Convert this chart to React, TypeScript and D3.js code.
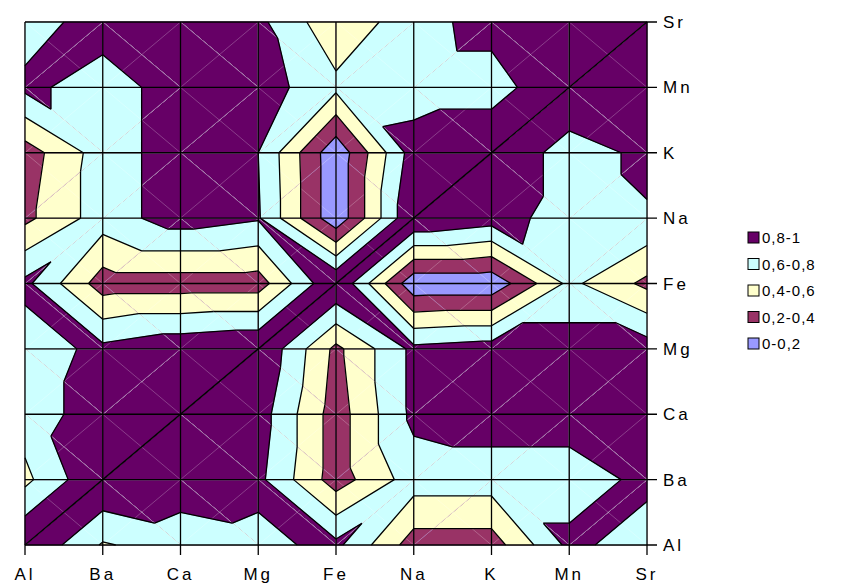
import * as d3 from 'd3';

const cats = ['Al', 'Ba', 'Ca', 'Mg', 'Fe', 'Na', 'K', 'Mn', 'Sr'];
// rows: y category (Al bottom .. Sr top), columns: x category
const rowAl = [1, 0.58, 0.7, 0.75, 0.85, 0.3, 0.3, 0.85, 0.7];
const rowBa = [0.55, 1, 0.9, 0.85, 0.3, 0.7, 0.7, 0.7, 0.85];
const rowCa = [0.7, 0.9, 1, 0.9, 0.3, 0.85, 0.9, 0.9, 0.9];
const rowMg = [0.7, 0.85, 0.95, 1, 0.35, 0.85, 0.9, 0.9, 0.9];
const rowFe = [0.85, 0.3, 0.3, 0.3, 1, 0.05, 0.05, 0.65, 0.35];
const rowNa = [0.35, 0.7, 0.9, 0.82, 0.05, 1, 0.9, 0.7, 0.78];
const rowK = [0.3, 0.7, 0.9, 0.8, 0.05, 0.9, 1, 0.7, 0.85];
const rowMn = [0.85, 0.7, 0.9, 0.9, 0.65, 0.7, 0.7, 1, 0.9];
const rowSr = [0.7, 0.9, 0.95, 0.85, 0.45, 0.72, 0.88, 0.9, 1];
const grid = [rowAl, rowBa, rowCa, rowMg, rowFe, rowNa, rowK, rowMn, rowSr];

const thresholds = [0.2, 0.4, 0.6, 0.8];
const bandColors = ['#9999FF', '#993366', '#FFFFCC', '#CCFFFF', '#660066'];
const legendLabels = ['0,8-1', '0,6-0,8', '0,4-0,6', '0,2-0,4', '0-0,2'];

type P = [number, number, number];

function clip(poly: P[], t: number): P[] {
  const out: P[] = [];
  for (let i = 0; i < poly.length; i++) {
    const a = poly[i], b = poly[(i + 1) % poly.length];
    const ia = a[2] >= t, ib = b[2] >= t;
    if (ia) out.push(a);
    if (ia !== ib) {
      const f = (t - a[2]) / (b[2] - a[2]);
      out.push([a[0] + f * (b[0] - a[0]), a[1] + f * (b[1] - a[1]), t]);
    }
  }
  return out;
}

function isoSeg(tri: P[], t: number): [number, number][] {
  const pts: [number, number][] = [];
  for (let i = 0; i < 3; i++) {
    const a = tri[i], b = tri[(i + 1) % 3];
    if ((a[2] < t) !== (b[2] < t)) {
      const f = (t - a[2]) / (b[2] - a[2]);
      pts.push([a[0] + f * (b[0] - a[0]), a[1] + f * (b[1] - a[1])]);
    }
  }
  return pts.length === 2 ? pts : [];
}

export default function App() {
  const x = d3.scalePoint<string>().domain(cats).range([25, 647]);
  const y = d3.scalePoint<string>().domain(cats).range([545, 22]);

  const fills: { d: string; c: string }[] = [];
  const lines: string[] = [];
  const faint: string[] = [];
  const path = (poly: P[]) => 'M' + poly.map(p => `${p[0]},${p[1]}`).join('L') + 'Z';
  for (let r = 0; r < 8; r++) {
    for (let c = 0; c < 8; c++) {
      const p00: P = [x(cats[c])!, y(cats[r])!, grid[r][c]];
      const p10: P = [x(cats[c + 1])!, y(cats[r])!, grid[r][c + 1]];
      const p11: P = [x(cats[c + 1])!, y(cats[r + 1])!, grid[r + 1][c + 1]];
      const p01: P = [x(cats[c])!, y(cats[r + 1])!, grid[r + 1][c]];
      faint.push(`M${p00[0]},${p00[1]}L${p11[0]},${p11[1]}M${p10[0]},${p10[1]}L${p01[0]},${p01[1]}`);
      // split the cell along the diagonal with the higher values
      const tris: P[][] = p00[2] + p11[2] >= p10[2] + p01[2]
        ? [[p00, p10, p11], [p00, p11, p01]]
        : [[p10, p11, p01], [p10, p01, p00]];
      for (const tri of tris) {
        fills.push({ d: path(tri), c: bandColors[0] });
        thresholds.forEach((t, i) => {
          const poly = clip(tri, t);
          if (poly.length >= 3) fills.push({ d: path(poly), c: bandColors[i + 1] });
          const s = isoSeg(tri, t);
          if (s.length) lines.push(`M${s[0][0]},${s[0][1]}L${s[1][0]},${s[1][1]}`);
        });
      }
    }
  }

  const font = '"Liberation Sans", Arial, sans-serif';
  return (
    <svg width={861} height={585} style={{ position: 'absolute', left: 0, top: 0 }}>
      <rect width={861} height={585} fill="#fff" />
      {fills.map((f, i) => (
        <path key={i} d={f.d} fill={f.c} stroke={f.c} strokeWidth={0.6} />
      ))}
      <path d={faint.join('')} stroke="#fff" strokeOpacity={0.3} strokeWidth={0.8} fill="none" />
      <path d={lines.join('')} stroke="#000" strokeWidth={1.3} fill="none" />
      {cats.map(k => (
        <g key={k}>
          <line x1={x(k)} x2={x(k)} y1={22} y2={555} stroke="#000" strokeWidth={1.3} />
          <line x1={25} x2={657} y1={y(k)} y2={y(k)} stroke="#000" strokeWidth={1.3} />
          <text x={x(k)} y={580} textAnchor="middle" fontFamily={font} fontSize={17} letterSpacing={3}>{k}</text>
          <text x={663} y={y(k)! + 6} fontFamily={font} fontSize={17} letterSpacing={3}>{k}</text>
        </g>
      ))}
      <line x1={x('Al')} y1={y('Al')} x2={x('Sr')} y2={y('Sr')} stroke="#000" strokeWidth={1.5} />
      {legendLabels.map((l, i) => (
        <g key={l}>
          <rect x={748} y={232 + i * 26.5} width={11} height={11} fill={bandColors[4 - i]} stroke="#000" />
          <text x={762} y={243 + i * 26.5} fontFamily={font} fontSize={15} letterSpacing={1}>{l}</text>
        </g>
      ))}
    </svg>
  );
}
